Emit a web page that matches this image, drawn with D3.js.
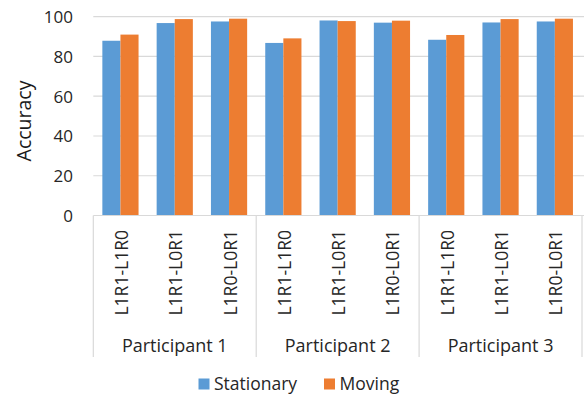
<!DOCTYPE html>
<html>
<head>
<meta charset="utf-8">
<script src="https://cdn.jsdelivr.net/npm/d3@7"></script>
<style>
  html, body { margin: 0; padding: 0; background: #fff; }
  svg { display: block; font-family: "Open Sans", "Noto Sans", sans-serif; }
</style>
</head>
<body>
<svg id="chart" width="584" height="394"></svg>
<script>
// Grouped bars: accuracy per participant and condition, stationary vs moving
const participants = ["Participant 1", "Participant 2", "Participant 3"];
const conditions = ["L1R1-L1R0", "L1R1-L0R1", "L1R0-L0R1"];
const seriesNames = ["Stationary", "Moving"];
const stationary = [87.9, 96.8, 97.6, 86.8, 98.1, 97.0, 88.4, 97.1, 97.6];
const moving = [91.0, 98.8, 99.0, 89.1, 97.8, 98.0, 90.8, 98.8, 99.0];
const yTicks = [0, 20, 40, 60, 80, 100];
const colors = ["#5B9BD5", "#ED7D31"];

const svg = d3.select("#chart");

// one slot per participant/condition pair
const slots = [];
participants.forEach((p, pi) => conditions.forEach((c, ci) => {
  slots.push({ key: p + "|" + c, participant: p, condition: c, idx: pi * conditions.length + ci });
}));

const plotLeft = 93.3, plotRight = 582, yZero = 215.5, yTop = 16.7;

const x = d3.scaleBand().domain(slots.map(d => d.key)).range([plotLeft, plotRight]).paddingInner(0).paddingOuter(0);
const bw = x.bandwidth();
const xSub = d3.scaleBand().domain(seriesNames).range([bw / 6, bw * 5 / 6]);
const y = d3.scaleLinear().domain([0, 100]).range([yZero, yTop]);

// horizontal gridlines
svg.append("g")
  .selectAll("line")
  .data(yTicks.filter(t => t > 0))
  .join("line")
  .attr("x1", plotLeft).attr("x2", 584)
  .attr("y1", d => y(d)).attr("y2", d => y(d))
  .attr("stroke", "#d9d9d9").attr("stroke-width", 1.2);

// y-axis labels
const yAxis = d3.axisLeft(y).tickValues(yTicks).tickSize(0).tickPadding(0);
const gy = svg.append("g").attr("transform", `translate(73,0)`).call(yAxis);
gy.select(".domain").remove();
gy.selectAll("text")
  .attr("font-size", 17)
  .attr("fill", "#262626")
  .attr("font-family", "'Open Sans', 'Noto Sans', sans-serif")
  .attr("dy", "0.35em");

// y-axis title
svg.append("text")
  .attr("transform", `translate(30.5,121) rotate(-90)`)
  .attr("text-anchor", "middle")
  .attr("font-size", 19.5)
  .attr("fill", "#1a1a1a")
  .text("Accuracy");

// bars
const barData = [];
slots.forEach(s => {
  barData.push({ slot: s.key, series: seriesNames[0], value: stationary[s.idx], color: colors[0] });
  barData.push({ slot: s.key, series: seriesNames[1], value: moving[s.idx], color: colors[1] });
});
svg.append("g")
  .selectAll("rect")
  .data(barData)
  .join("rect")
  .attr("x", d => x(d.slot) + xSub(d.series))
  .attr("y", d => y(d.value))
  .attr("width", xSub.bandwidth())
  .attr("height", d => y(0) - y(d.value))
  .attr("fill", d => d.color);

// category axis: baseline plus group separators
svg.append("line")
  .attr("x1", plotLeft).attr("x2", 584)
  .attr("y1", yZero).attr("y2", yZero)
  .attr("stroke", "#d9d9d9").attr("stroke-width", 1.2);

const groupEdges = participants.map((p, i) => x(slots[i * conditions.length].key)).concat([plotRight]);
svg.append("g")
  .selectAll("line")
  .data(groupEdges)
  .join("line")
  .attr("x1", d => d).attr("x2", d => d)
  .attr("y1", yZero).attr("y2", 357)
  .attr("stroke", "#d9d9d9").attr("stroke-width", 1.2);

// inner (condition) labels, rotated
svg.append("g")
  .selectAll("text")
  .data(slots)
  .join("text")
  .attr("transform", d => `translate(${x(d.key) + bw / 2 + 7.5},230) rotate(-90)`)
  .attr("text-anchor", "end")
  .attr("font-size", 17.5)
  .attr("fill", "#262626")
  .text(d => d.condition);

// outer (participant) labels
svg.append("g")
  .selectAll("text")
  .data(participants)
  .join("text")
  .attr("x", (d, i) => (groupEdges[i] + groupEdges[i + 1]) / 2)
  .attr("y", 352)
  .attr("text-anchor", "middle")
  .attr("font-size", 18)
  .attr("fill", "#262626")
  .text(d => d);

// legend
const legendX = [198.5, 324];
const lg = svg.append("g").selectAll("g").data(seriesNames).join("g")
  .attr("transform", (d, i) => `translate(${legendX[i]},384)`);
lg.append("rect").attr("x", 0).attr("y", -5.5).attr("width", 11).attr("height", 11)
  .attr("fill", (d, i) => colors[i]);
lg.append("text").attr("x", 15.5).attr("y", 0).attr("dy", "0.35em")
  .attr("font-size", 17.5).attr("fill", "#262626").text(d => d);
</script>
</body>
</html>
